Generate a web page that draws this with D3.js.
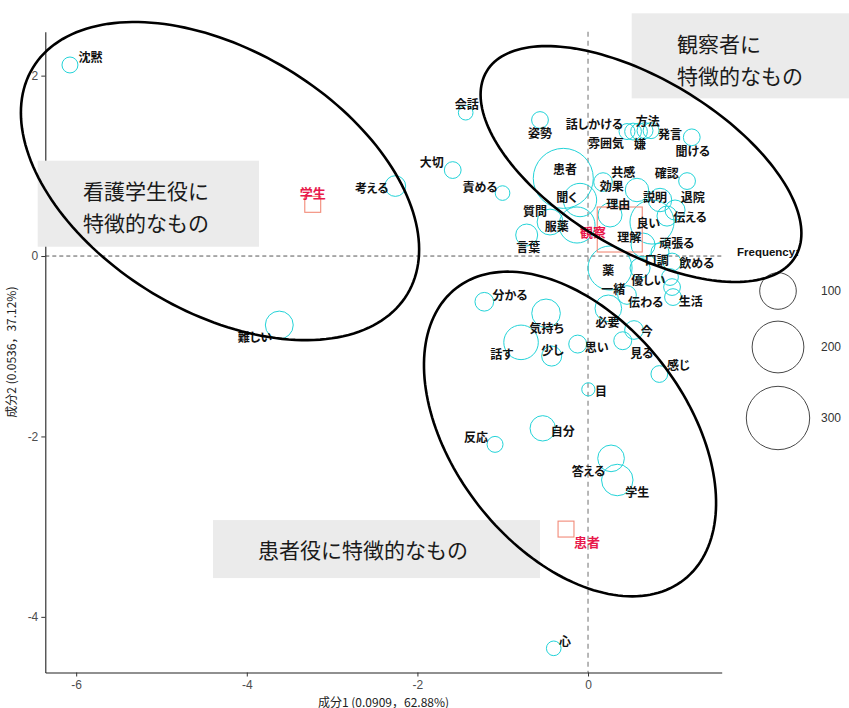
<!DOCTYPE html>
<html><head><meta charset="utf-8">
<script src="https://cdn.jsdelivr.net/npm/d3@7"></script>
<style>body{margin:0;background:#fff}</style>
</head><body>
<svg id="chart" width="849" height="708"></svg>
<script>
// ---- data ----
const words = ["沈黙","会話","姿勢","大切","責める","考える","難しい","話しかける","方法","雰囲気","嫌","発言","聞ける","患者","共感","効果","確認","説明","退院","伝える","良い","理由","聞く","質問","服薬","言葉","理解","薬","口調","頑張る","飲める","優しい","一緒","伝わる","生活","必要","今","見る","思い","感じ","気持ち","話す","少し","分かる","目","自分","反応","答える","学生","心"];
const dim1 = [-6.073,-1.434,-0.563,-1.586,-1.002,-2.259,-3.619,0.457,0.528,0.598,0.668,0.739,1.216,-0.290,0.176,0.574,1.161,0.844,1.020,0.926,0.750,0.258,-0.094,-0.445,-0.129,-0.719,0.645,0.258,0.610,0.844,0.985,0.961,0.457,0.985,0.996,0.238,0.539,0.407,-0.121,0.836,-0.492,-0.785,-0.426,-1.216,0.004,-0.531,-1.090,0.270,0.343,-0.402];
const dim2 = [2.118,1.589,1.508,0.953,0.698,0.776,-0.765,1.380,1.380,1.380,1.390,1.390,1.316,0.861,0.820,0.732,0.831,0.621,0.510,0.443,0.377,0.455,0.621,0.377,0.344,0.233,0.122,-0.133,-0.133,0.044,-0.067,-0.233,-0.432,-0.344,-0.455,-0.580,-0.820,-0.939,-0.976,-1.308,-0.635,-0.957,-1.109,-0.507,-1.478,-1.910,-2.088,-2.243,-2.483,-4.349];
const frequency = [19,16,21,21,16,32,58,19,21,21,19,19,21,269,26,41,21,41,30,30,145,43,83,50,97,36,43,145,30,24,24,21,26,21,21,53,26,24,24,21,61,89,30,26,13,48,19,53,74,16];
const labelDim1 = [-5.832,-1.422,-0.563,-1.832,-1.266,-2.536,-3.904,0.074,0.700,0.211,0.610,0.961,1.227,-0.270,0.414,0.278,0.923,0.785,1.227,1.196,0.707,0.355,-0.250,-0.621,-0.367,-0.700,0.484,0.238,0.805,1.040,1.274,0.707,0.297,0.676,1.204,0.229,0.688,0.630,0.102,1.059,-0.484,-1.012,-0.416,-0.914,0.152,-0.297,-1.313,0.004,0.578,-0.270];
const labelDim2 = [2.210,1.693,1.367,1.045,0.776,0.757,-0.887,1.471,1.508,1.256,1.249,1.360,1.167,0.965,0.942,0.778,0.923,0.657,0.657,0.443,0.369,0.580,0.665,0.510,0.333,0.111,0.214,-0.147,-0.037,0.147,-0.074,-0.258,-0.358,-0.499,-0.488,-0.721,-0.828,-1.072,-0.998,-1.208,-0.787,-1.086,-1.031,-0.421,-1.493,-1.937,-1.996,-2.373,-2.605,-4.257];

const colNames = ["学生","観察","患者"];
const colDim1 = [-3.227, 0.372, -0.258];
const colDim2 = [0.573, 0.294, -3.027];
const colFreq = [40, 320, 40];
const colLabelDim1 = [-3.227, 0.059, -0.012];
const colLabelDim2 = [0.702, 0.277, -3.160];

const xTicks = [-6, -4, -2, 0];
const yTicks = [-4, -2, 0, 2];
const legendValues = [100, 200, 300];
const xTitle = "成分1 (0.0909，62.88%)";
const yTitle = "成分2 (0.0536，37.12%)";

// annotations (data space): ellipse centre + semi-axis vectors
const ellipseCx = [-4.314, 0.621, -0.211];
const ellipseCy = [0.831, 1.020, -1.973];
const ellipseAx = [[2.196,-1.253],[1.809,-1.028],[1.335,-1.616]];
const ellipseBx = [[-0.791,-1.241],[-0.513,-0.808],[-1.072,-0.792]];
const boxLines = [["観察者に","特徴的なもの"],["看護学生役に","特徴的なもの"],["患者役に特徴的なもの"]];
const boxX0 = [0.512, -6.451, -4.396], boxX1 = [3.06, -3.857, -0.563];
const boxY0 = [2.691, 1.057, -2.927], boxY1 = [1.748, 0.103, -3.570];
const boxTextX = [1.043, -5.920, -3.869];
const boxTextY = [[2.361, 2.007],[0.732, 0.380],[-3.248]];

// ---- drawing ----
const svg = d3.select("#chart");
svg.append("rect").attr("width",849).attr("height",708).attr("fill","#fff");
const x = d3.scaleLinear().domain([-6.362, 1.567]).range([45.3, 721.7]);
const y = d3.scaleLinear().domain([-4.617, 2.487]).range([672.5, 31.7]);
const r = d3.scaleSqrt().domain([0, 300]).range([0, 31.7]);
const sq = d3.scaleSqrt().domain([0, 320]).range([0, 45]);

// reference lines
svg.append("line").attr("x1", x(0)).attr("x2", x(0)).attr("y1", y.range()[1]).attr("y2", y.range()[0])
  .attr("stroke", "#9a9a9a").attr("stroke-width", 1.4).attr("stroke-dasharray", "5,4");
svg.append("line").attr("x1", x.range()[0]).attr("x2", x.range()[1]).attr("y1", y(0)).attr("y2", y(0))
  .attr("stroke", "#444").attr("stroke-width", 0.9).attr("stroke-dasharray", "4,3");

// axes
const fmt = d => String(d);
const gx = svg.append("g").attr("transform", `translate(0,${y.range()[0]})`)
  .call(d3.axisBottom(x).tickValues(xTicks).tickSize(4).tickSizeOuter(0).tickFormat(fmt));
const gy = svg.append("g").attr("transform", `translate(${x.range()[0]},0)`)
  .call(d3.axisLeft(y).tickValues(yTicks).tickSize(4).tickSizeOuter(0).tickFormat(fmt));
[gx, gy].forEach(g => {
  g.select(".domain").attr("stroke", "#222").attr("stroke-width", 1.1);
  g.selectAll(".tick line").attr("stroke", "#333");
  g.selectAll(".tick text").attr("fill", "#4d4d4d").style("font-family", "'Liberation Sans', Arial, sans-serif").style("font-size", "12px");
});
gx.selectAll(".tick text").attr("dy", "0.76em");
svg.append("text").attr("x", (x.range()[0]+x.range()[1])/2).attr("y", 706.5).attr("text-anchor","middle")
  .style("font-family","'Noto Sans CJK JP', 'Liberation Sans', sans-serif").style("font-size","12px").attr("fill","#222").text(xTitle);
svg.append("text").attr("transform", `translate(16,${(y.range()[0]+y.range()[1])/2}) rotate(-90)`).attr("text-anchor","middle")
  .style("font-family","'Noto Sans CJK JP', 'Liberation Sans', sans-serif").style("font-size","12px").attr("fill","#222").text(yTitle);

// bubbles
const idx = d3.range(words.length);
svg.append("g").selectAll("circle").data(idx).join("circle")
  .attr("cx", i => x(dim1[i])).attr("cy", i => y(dim2[i])).attr("r", i => r(frequency[i]))
  .attr("fill", "none").attr("stroke", "#22d3d8").attr("stroke-width", 1);

// column squares
const cidx = d3.range(colNames.length);
svg.append("g").selectAll("rect").data(cidx).join("rect")
  .attr("x", i => x(colDim1[i]) - sq(colFreq[i])/2).attr("y", i => y(colDim2[i]) - sq(colFreq[i])/2)
  .attr("width", i => sq(colFreq[i])).attr("height", i => sq(colFreq[i]))
  .attr("fill", "none").attr("stroke", "#f28a78").attr("stroke-width", 1.1);

// column labels
svg.append("g").selectAll("text").data(cidx).join("text")
  .attr("x", i => x(colLabelDim1[i])).attr("y", i => y(colLabelDim2[i]))
  .attr("text-anchor","middle").attr("dominant-baseline","central")
  .style("font-family","'Noto Sans CJK JP', sans-serif").style("font-size","13px").style("font-weight","bold")
  .style("font-feature-settings","'palt'")
  .attr("fill","#e8194b").text(i => colNames[i]);

// word labels
svg.append("g").selectAll("text").data(idx).join("text")
  .attr("x", i => x(labelDim1[i])).attr("y", i => y(labelDim2[i]))
  .attr("text-anchor","middle").attr("dominant-baseline","central")
  .style("font-family","'Noto Sans CJK JP', sans-serif").style("font-size","12px").style("font-weight","bold")
  .style("font-feature-settings","'palt'")
  .attr("fill","#111").text(i => words[i]);

// legend
const lg = svg.append("g");
lg.append("text").attr("x", 737).attr("y", 252).attr("dominant-baseline","central")
  .style("font-family","'Liberation Sans', Arial, sans-serif").style("font-size","11.5px").style("font-weight","bold")
  .attr("fill","#111").text("Frequency:");
const legY = [291, 347, 418];
legendValues.forEach((v, k) => {
  lg.append("circle").attr("cx", 778).attr("cy", legY[k]).attr("r", r(v))
    .attr("fill","none").attr("stroke","#333").attr("stroke-width",0.9);
  lg.append("text").attr("x", 821).attr("y", legY[k]).attr("dominant-baseline","central")
    .style("font-family","'Liberation Sans', Arial, sans-serif").style("font-size","12px").attr("fill","#333").text(v);
});

// annotation boxes
boxLines.forEach((lines, k) => {
  svg.append("rect").attr("x", x(boxX0[k])).attr("y", y(boxY0[k]))
    .attr("width", x(boxX1[k]) - x(boxX0[k])).attr("height", y(boxY1[k]) - y(boxY0[k]))
    .attr("fill", "#ebebeb");
  lines.forEach((t, j) => {
    svg.append("text").attr("x", x(boxTextX[k])).attr("y", y(boxTextY[k][j])).attr("dominant-baseline","central")
      .style("font-family","'Noto Sans CJK JP', sans-serif").style("font-size","21px").attr("fill","#1a1a1a").text(t);
  });
});

// annotation ellipses
const line = d3.line().curve(d3.curveLinearClosed);
ellipseCx.forEach((cx, k) => {
  const pts = d3.range(0, 360, 2).map(deg => {
    const t = deg * Math.PI / 180;
    const dx = cx + ellipseAx[k][0]*Math.cos(t) + ellipseBx[k][0]*Math.sin(t);
    const dy = ellipseCy[k] + ellipseAx[k][1]*Math.cos(t) + ellipseBx[k][1]*Math.sin(t);
    return [x(dx), y(dy)];
  });
  svg.append("path").attr("d", line(pts)).attr("fill","none").attr("stroke","#000").attr("stroke-width",2.6);
});
</script>
</body></html>
